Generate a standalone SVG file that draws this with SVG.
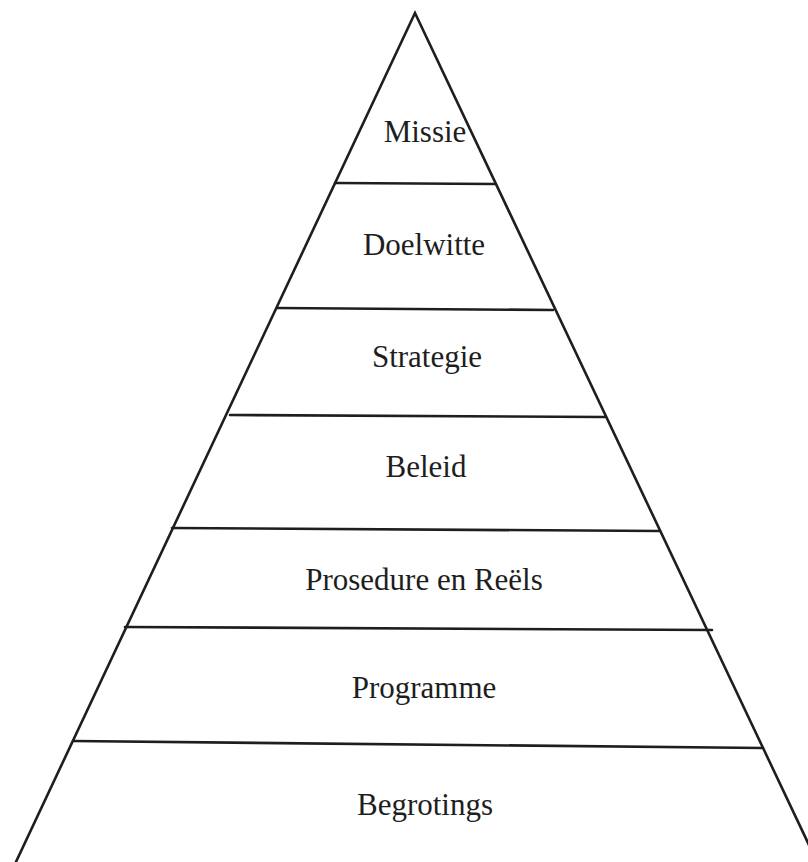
<svg xmlns="http://www.w3.org/2000/svg" width="808" height="862" viewBox="0 0 808 862">
<style>
.ln{stroke:#1e1e1e;stroke-width:2.6;fill:none;stroke-linecap:round;stroke-linejoin:miter}
.t{font-family:"Liberation Serif","Times New Roman",serif;font-size:31px;fill:#1e1e1e;text-anchor:middle}
</style>
<rect width="808" height="862" fill="#ffffff"/>
<g id="pyramid">
<polyline class="ln" points="15,864 415,13 818,864"/>
</g>
<g id="dividers">
<line class="ln" x1="335" y1="183" x2="495" y2="184"/>
<line class="ln" x1="277" y1="308" x2="553" y2="310"/>
<line class="ln" x1="230" y1="415" x2="605" y2="417"/>
<line class="ln" x1="172" y1="528" x2="660" y2="531"/>
<line class="ln" x1="125" y1="627" x2="712" y2="630"/>
<line class="ln" x1="73" y1="741" x2="763" y2="748"/>
</g>
<g id="missie"><text class="t" x="425" y="142">Missie</text></g>
<g id="doelwitte"><text class="t" x="424" y="255">Doelwitte</text></g>
<g id="strategie"><text class="t" x="427" y="367">Strategie</text></g>
<g id="beleid"><text class="t" x="426" y="477">Beleid</text></g>
<g id="prosedure"><text class="t" x="424" y="590">Prosedure en Reëls</text></g>
<g id="programme"><text class="t" x="424" y="698">Programme</text></g>
<g id="begrotings"><text class="t" x="425" y="815">Begrotings</text></g>
</svg>
